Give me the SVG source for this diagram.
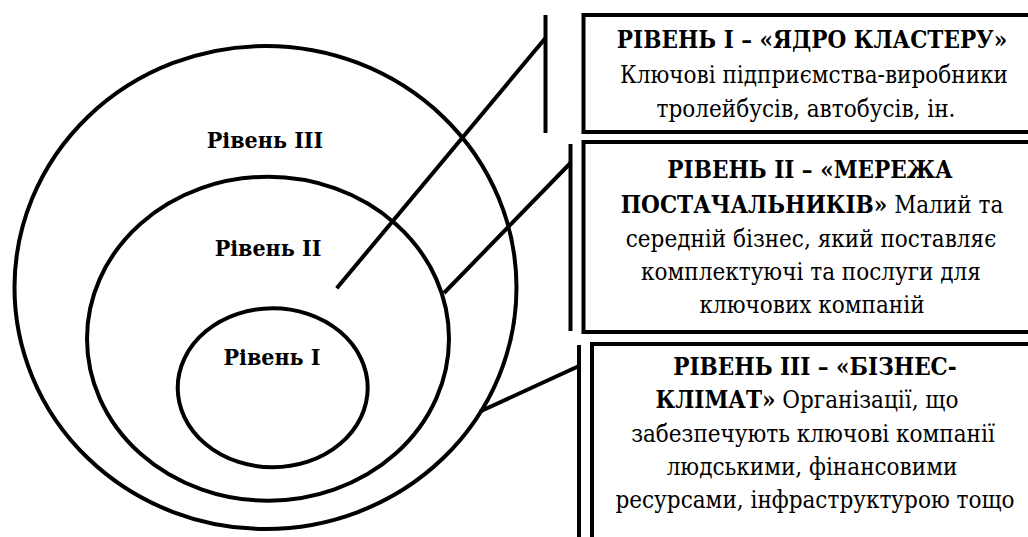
<svg xmlns="http://www.w3.org/2000/svg" width="1028" height="537" viewBox="0 0 1028 537">
  <style>
    .ring { fill: none; stroke: #000; stroke-width: 4; }
    .box { fill: #fff; stroke: #000; stroke-width: 4; }
    .bar { stroke: #000; stroke-width: 4; }
    .link { stroke: #000; stroke-width: 4; fill: none; }
    text { font-family: "DejaVu Serif", serif; font-stretch: condensed; font-size: 24px; fill: #000; text-anchor: middle; }
    .lvl { font-size: 23px; font-weight: bold; }
    .b { font-weight: bold; }
  </style>
  <rect width="1028" height="537" fill="#fff"/>

  <!-- concentric levels -->
  <g id="level3">
    <ellipse class="ring" cx="265.5" cy="287.5" rx="251" ry="241.5"/>
    <text class="lvl" x="265" y="148">Рівень III</text>
  </g>
  <g id="level2">
    <ellipse class="ring" cx="268" cy="338.7" rx="181" ry="162"/>
    <text class="lvl" x="268" y="256">Рівень II</text>
  </g>
  <g id="level1">
    <ellipse class="ring" cx="272.7" cy="387.8" rx="95" ry="79.5"/>
    <text class="lvl" x="272" y="365">Рівень I</text>
  </g>

  <!-- leader lines with their brackets -->
  <g id="connectors">
    <line class="bar" x1="545.5" y1="15" x2="545.5" y2="133"/>
    <line class="bar" x1="570.5" y1="144" x2="570.5" y2="331"/>
    <line class="bar" x1="579" y1="345" x2="579" y2="540"/>
    <line class="link" x1="336.7" y1="288.3" x2="545.5" y2="38"/>
    <line class="link" x1="444" y1="293" x2="570.5" y2="163"/>
    <line class="link" x1="480" y1="411.5" x2="579" y2="366"/>
  </g>

  <!-- description boxes -->
  <g id="box-core">
    <rect class="box" x="583.5" y="15" width="460" height="117"/>
    <text x="812" y="48"><tspan class="b">РІВЕНЬ І – «ЯДРО КЛАСТЕРУ»</tspan></text>
    <text x="814" y="83">Ключові підприємства-виробники</text>
    <text x="806" y="117">тролейбусів, автобусів, ін.</text>
  </g>
  <g id="box-suppliers">
    <rect class="box" x="583.5" y="142" width="460" height="190"/>
    <text x="810" y="178"><tspan class="b">РІВЕНЬ ІІ – «МЕРЕЖА</tspan></text>
    <text x="812" y="213"><tspan class="b">ПОСТАЧАЛЬНИКІВ»</tspan> Малий та</text>
    <text x="811" y="247">середній бізнес, який поставляє</text>
    <text x="811" y="280">комплектуючі та послуги для</text>
    <text x="812" y="313">ключових компаній</text>
  </g>
  <g id="box-climate">
    <rect class="box" x="592" y="344" width="460" height="220"/>
    <text x="815" y="375"><tspan class="b">РІВЕНЬ ІІІ – «БІЗНЕС-</tspan></text>
    <text x="807" y="408"><tspan class="b">КЛІМАТ»</tspan> Організації, що</text>
    <text x="813" y="442">забезпечують ключові компанії</text>
    <text x="812" y="475">людськими, фінансовими</text>
    <text x="815" y="508">ресурсами, інфраструктурою тощо</text>
  </g>
</svg>
